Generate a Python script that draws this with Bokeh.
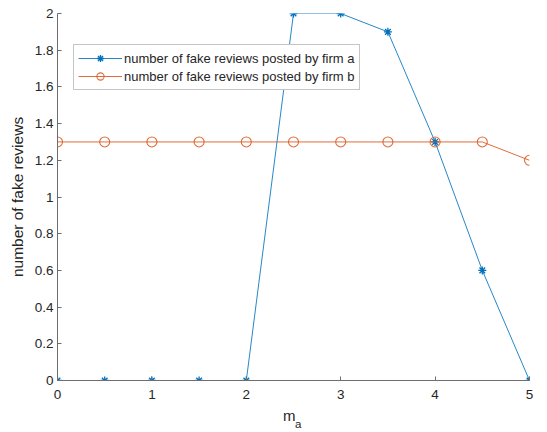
from bokeh.plotting import figure
from bokeh.models import Range1d, LinearAxis, Legend, LegendItem, FixedTicker
from bokeh.embed import file_html
from bokeh.resources import INLINE

# model outcome versus m_a
m_a = [0, 0.5, 1, 1.5, 2, 2.5, 3, 3.5, 4, 4.5, 5]
fake_a = [0, 0, 0, 0, 0, 2, 2, 1.9, 1.3, 0.6, 0]
fake_b = [1.3, 1.3, 1.3, 1.3, 1.3, 1.3, 1.3, 1.3, 1.3, 1.3, 1.2]
x_ticks = [0, 1, 2, 3, 4, 5]
y_ticks = [0, 0.2, 0.4, 0.6, 0.8, 1, 1.2, 1.4, 1.6, 1.8, 2]
label_a = "number of fake reviews posted by firm a"
label_b = "number of fake reviews posted by firm b"

BLUE = "#0072BD"
ORANGE = "#D95319"
AX = "#262626"
FONT = "Liberation Sans"
NBSP = "\u00a0"

p = figure(width=547, height=432, output_backend="svg", toolbar_location=None,
           x_range=Range1d(0, 5), y_range=Range1d(0, 2),
           min_border_left=57, min_border_right=18, min_border_top=13,
           min_border_bottom=52)
p.outline_line_color = None
p.xgrid.visible = False
p.ygrid.visible = False
p.background_fill_color = "white"
p.border_fill_color = "white"

for ax in (p.xaxis[0], p.yaxis[0]):
    ax.axis_line_color = "#6e6e6e"
    ax.axis_line_width = 1
    ax.major_tick_line_color = "#6e6e6e"
    ax.major_tick_in = 4
    ax.major_tick_out = 0
    ax.minor_tick_line_color = None
    ax.major_label_text_font = FONT
    ax.major_label_text_font_size = "13.5px"
    ax.major_label_text_color = AX
p.xaxis.ticker = FixedTicker(ticks=x_ticks)
p.yaxis.ticker = FixedTicker(ticks=y_ticks)
p.yaxis.major_label_overrides = {0: "0", 1: "1", 2: "2"}
p.xaxis.major_label_standoff = 9
p.yaxis.major_label_standoff = 4

p.yaxis.axis_label = "number of fake reviews"
p.yaxis.axis_label_text_font = FONT
p.yaxis.axis_label_text_font_size = "15.5px"
p.yaxis.axis_label_text_font_style = "normal"
p.yaxis.axis_label_text_color = AX
p.yaxis.axis_label_standoff = 6

# x label: "m" on the x axis, subscript "a" on a bare axis just beneath it
p.xaxis.axis_label = "m" + NBSP * 2
p.xaxis.axis_label_text_font = FONT
p.xaxis.axis_label_text_font_size = "15px"
p.xaxis.axis_label_text_font_style = "normal"
p.xaxis.axis_label_text_color = AX
p.xaxis.axis_label_standoff = 5

sub_axis = LinearAxis(ticker=FixedTicker(ticks=[]), axis_line_color=None,
                      major_tick_line_color=None, minor_tick_line_color=None,
                      major_tick_in=0, major_tick_out=0, major_label_standoff=0,
                      axis_label=NBSP * 3 + "a", axis_label_standoff=-9,
                      axis_label_text_font=FONT, axis_label_text_font_size="11.5px",
                      axis_label_text_font_style="normal", axis_label_text_color=AX)
p.add_layout(sub_axis, "below")

la = p.line(m_a, fake_a, line_color=BLUE, line_width=1, line_alpha=0.85)
sa = p.scatter(m_a, fake_a, marker="asterisk", size=8, line_color=BLUE, line_width=1.3)
m_b = m_a
lb = p.line(m_b, fake_b, line_color=ORANGE, line_width=1, line_alpha=0.85)
sb = p.scatter(m_b, fake_b, marker="circle", size=10, line_color=ORANGE,
               fill_color=None, line_width=1.1, line_alpha=0.85)

legend = Legend(items=[LegendItem(label=label_a, renderers=[la, sa]),
                       LegendItem(label=label_b, renderers=[lb, sb])],
                location=(16, 290), orientation="vertical",
                label_text_font=FONT, label_text_font_size="13px",
                label_text_color=AX, glyph_width=44, glyph_height=18,
                label_standoff=2, spacing=0, padding=4, margin=0,
                border_line_color="#8c8c8c", border_line_width=1,
                background_fill_color="white", background_fill_alpha=1,
                label_height=18)
p.add_layout(legend, "center")

open("out.html", "w").write(file_html(p, INLINE))
